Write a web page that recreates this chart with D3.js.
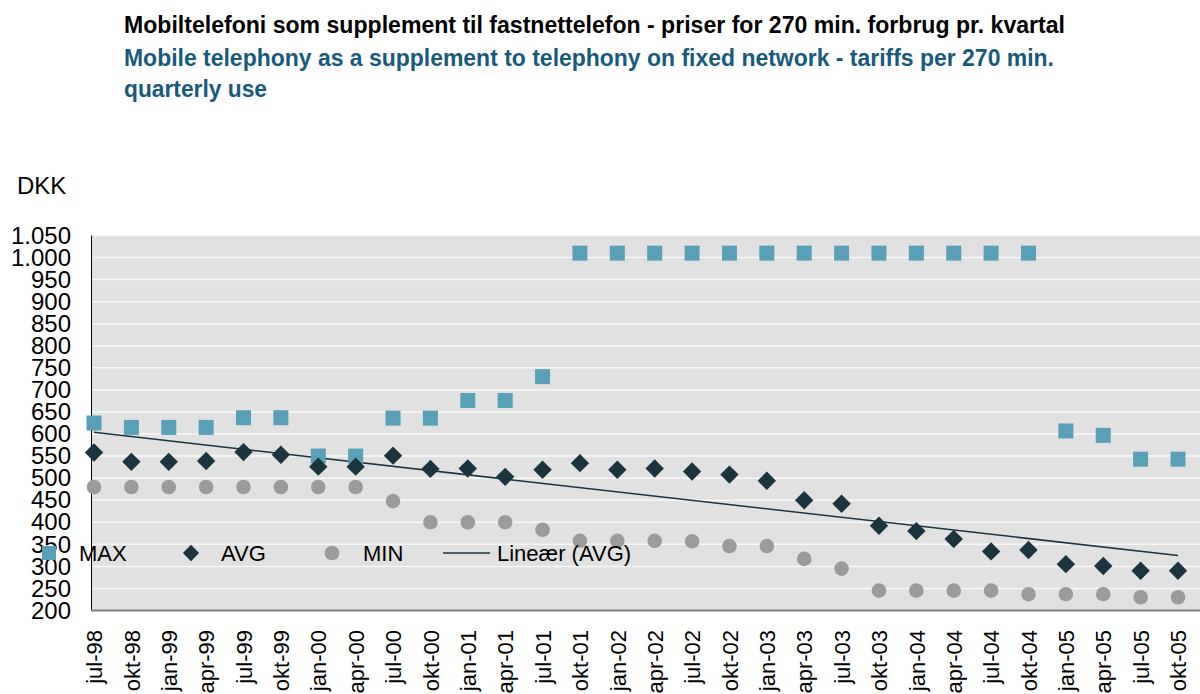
<!DOCTYPE html>
<html>
<head>
<meta charset="utf-8">
<script src="https://cdn.jsdelivr.net/npm/d3@7"></script>
<style>
  body { margin: 0; background: #ffffff; }
  svg { display: block; font-family: "Liberation Sans", Arial, sans-serif; }
</style>
</head>
<body>
<div id="chart"></div>
<script>
const quarters = [
  "jul-98", "okt-98", "jan-99", "apr-99", "jul-99", "okt-99",
  "jan-00", "apr-00", "jul-00", "okt-00", "jan-01", "apr-01",
  "jul-01", "okt-01", "jan-02", "apr-02", "jul-02", "okt-02",
  "jan-03", "apr-03", "jul-03", "okt-03", "jan-04", "apr-04",
  "jul-04", "okt-04", "jan-05", "apr-05", "jul-05", "okt-05"
];

const maxValues = [
  625, 615, 615, 615, 637, 637,
  550, 550, 636, 636, 676, 676,
  730, 1010, 1010, 1010, 1010, 1010,
  1010, 1010, 1010, 1010, 1010, 1010,
  1010, 1010, 607, 597, 543, 543
];

const avgValues = [
  558, 537, 537, 539, 559, 553,
  526, 526, 551, 521, 522, 503,
  519, 534, 519, 522, 515, 508,
  494, 450, 442, 392, 380, 362,
  334, 337, 305, 301, 290, 290
];

const minValues = [
  480, 480, 480, 480, 480, 480,
  480, 480, 448, 400, 400, 400,
  383, 358, 358, 358, 357, 346,
  346, 317, 295, 245, 245, 245,
  245, 237, 237, 237, 230, 230
];

const yTicks = [200, 250, 300, 350, 400, 450, 500, 550, 600, 650, 700, 750, 800, 850, 900, 950, 1000, 1050];

const titleDa = "Mobiltelefoni som supplement til fastnettelefon - priser for 270 min. forbrug pr. kvartal";
const titleEn1 = "Mobile telephony as a supplement to telephony on fixed network - tariffs per 270 min.";
const titleEn2 = "quarterly use";

const colors = {
  max: "#58a0b7",
  avg: "#1b343d",
  min: "#9b9b9b",
  trend: "#1b343d",
  plotBg: "#e1e1e1",
  grid: "#f7f7f7",
  titleEn: "#175a7c"
};

const width = 1200;
const height = 694;
const plot = { left: 91, right: 1200, top: 235.5, bottom: 610.5 };

const svg = d3.select("#chart")
  .append("svg")
  .attr("width", width)
  .attr("height", height);

// Titles (the original font is condensed, so squeeze to the measured width)
const titles = [
  { text: titleDa, y: 33, fill: "#000000", len: 941 },
  { text: titleEn1, y: 65.5, fill: colors.titleEn, len: 930 },
  { text: titleEn2, y: 97, fill: colors.titleEn, len: 143 }
];
titles.forEach((t) => {
  svg.append("text")
    .attr("x", 124)
    .attr("y", t.y)
    .attr("fill", t.fill)
    .attr("font-size", 23)
    .attr("font-weight", "bold")
    .attr("textLength", t.len)
    .attr("lengthAdjust", "spacingAndGlyphs")
    .text(t.text);
});

// Unit label
svg.append("text")
  .attr("x", 17)
  .attr("y", 194)
  .attr("font-size", 24)
  .attr("fill", "#000")
  .text("DKK");

const x = d3.scalePoint()
  .domain(quarters)
  .range([94, 1178]);

const y = d3.scaleLinear()
  .domain([200, 1050])
  .range([plot.bottom, plot.top]);

const dk = d3.formatLocale({ decimal: ",", thousands: ".", grouping: [3], currency: ["", ""] });
const fmt = dk.format(",");

// Plot area background
svg.append("rect")
  .attr("x", plot.left)
  .attr("y", plot.top)
  .attr("width", plot.right - plot.left)
  .attr("height", plot.bottom - plot.top)
  .attr("fill", colors.plotBg);

// Gridlines
svg.append("g")
  .selectAll("line")
  .data(yTicks.slice(1))
  .join("line")
  .attr("x1", plot.left)
  .attr("x2", plot.right)
  .attr("y1", (d) => y(d))
  .attr("y2", (d) => y(d))
  .attr("stroke", colors.grid)
  .attr("stroke-width", 1.5);

// Y axis
const yAxis = svg.append("g")
  .attr("transform", `translate(${plot.left},0)`)
  .call(d3.axisLeft(y).tickValues(yTicks).tickFormat(fmt).tickSize(0).tickPadding(20));
yAxis.select(".domain").remove();
yAxis.selectAll("text")
  .attr("font-size", 24)
  .attr("font-family", "Liberation Sans, Arial, sans-serif")
  .attr("fill", "#000");

svg.append("line")
  .attr("x1", plot.left + 0.5)
  .attr("x2", plot.left + 0.5)
  .attr("y1", plot.top)
  .attr("y2", plot.bottom)
  .attr("stroke", "#000")
  .attr("stroke-width", 1);

// X axis
const xAxis = svg.append("g")
  .attr("transform", `translate(0,${plot.bottom})`)
  .call(d3.axisBottom(x).tickSize(0));
xAxis.select(".domain").remove();
xAxis.selectAll("text")
  .attr("font-size", 22)
  .attr("font-family", "Liberation Sans, Arial, sans-serif")
  .attr("fill", "#000")
  .attr("transform", "rotate(-90)")
  .attr("x", -19.5)
  .attr("y", 0)
  .attr("dy", "0.35em")
  .style("text-anchor", "end");

svg.append("line")
  .attr("x1", plot.left)
  .attr("x2", plot.right)
  .attr("y1", plot.bottom)
  .attr("y2", plot.bottom)
  .attr("stroke", "#7f7f7f")
  .attr("stroke-width", 2);

// Linear trend of AVG (least squares over quarter index)
const n = avgValues.length;
const idx = d3.range(n);
const mx = d3.mean(idx);
const my = d3.mean(avgValues);
const slope = d3.sum(idx, (i) => (i - mx) * (avgValues[i] - my)) / d3.sum(idx, (i) => (i - mx) * (i - mx));
const intercept = my - slope * mx;
const trend = [0, n - 1].map((i) => ({ q: quarters[i], v: intercept + slope * i }));

svg.append("path")
  .datum(trend)
  .attr("fill", "none")
  .attr("stroke", colors.trend)
  .attr("stroke-width", 1.5)
  .attr("d", d3.line().x((d) => x(d.q)).y((d) => y(d.v)));

// MIN circles
svg.append("g")
  .selectAll("circle")
  .data(minValues)
  .join("circle")
  .attr("cx", (d, i) => x(quarters[i]))
  .attr("cy", (d) => y(d))
  .attr("r", 7.3)
  .attr("fill", colors.min);

// MAX squares
const sq = 15;
svg.append("g")
  .selectAll("rect")
  .data(maxValues)
  .join("rect")
  .attr("x", (d, i) => x(quarters[i]) - sq / 2)
  .attr("y", (d) => y(d) - sq / 2)
  .attr("width", sq)
  .attr("height", sq)
  .attr("fill", colors.max);

// AVG diamonds
const diamond = d3.symbol().type(d3.symbolSquare).size(13 * 13);
svg.append("g")
  .selectAll("path")
  .data(avgValues)
  .join("path")
  .attr("d", diamond)
  .attr("transform", (d, i) => `translate(${x(quarters[i])},${y(d)}) rotate(45)`)
  .attr("fill", colors.avg);

// Legend
const legendY = 553;
const legend = svg.append("g").attr("font-size", 22).attr("fill", "#000");

legend.append("rect")
  .attr("x", 42).attr("y", legendY - 7)
  .attr("width", 14).attr("height", 14)
  .attr("fill", colors.max);
legend.append("text").attr("x", 79).attr("y", legendY).attr("dy", "0.35em").text("MAX");

legend.append("path")
  .attr("d", d3.symbol().type(d3.symbolSquare).size(11.5 * 11.5))
  .attr("transform", `translate(191,${legendY}) rotate(45)`)
  .attr("fill", colors.avg);
legend.append("text").attr("x", 221).attr("y", legendY).attr("dy", "0.35em").text("AVG");

legend.append("circle")
  .attr("cx", 332).attr("cy", legendY)
  .attr("r", 7.3)
  .attr("fill", colors.min);
legend.append("text").attr("x", 363).attr("y", legendY).attr("dy", "0.35em").text("MIN");

legend.append("line")
  .attr("x1", 443).attr("x2", 490)
  .attr("y1", legendY).attr("y2", legendY)
  .attr("stroke", colors.trend)
  .attr("stroke-width", 1.5);
legend.append("text").attr("x", 497).attr("y", legendY).attr("dy", "0.35em").text("Lineær (AVG)");
</script>
</body>
</html>
